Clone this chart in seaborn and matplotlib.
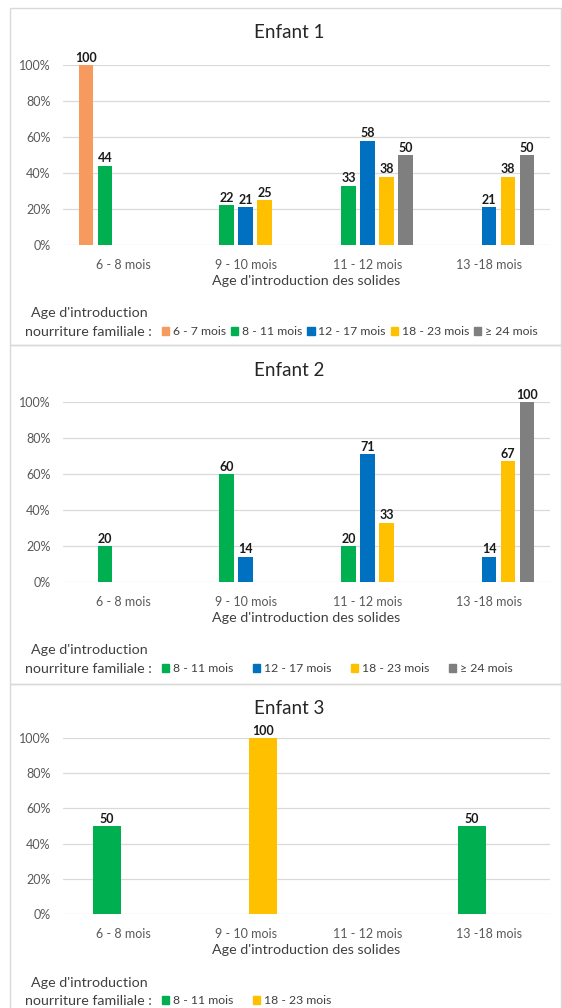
import numpy as np
import pandas as pd
import seaborn as sns
import matplotlib.pyplot as plt
from matplotlib.patches import Patch, Rectangle

# Categories on the x axis and the legend series
categories = ['6 - 8 mois', '9 - 10 mois', '11 - 12 mois', '13 -18 mois']
series = ['6 - 7 mois', '8 - 11 mois', '12 - 17 mois', '18 - 23 mois', '≥ 24 mois']
series_colors = ['#F79A5F', '#00B050', '#0070C0', '#FFC000', '#7F7F7F']
y_ticks = [0, 20, 40, 60, 80, 100]

# Enfant 1 (% per category, one list per series)
e1_6_7 = [100, 0, 0, 0]
e1_8_11 = [44, 22, 33, 0]
e1_12_17 = [0, 21, 58, 21]
e1_18_23 = [0, 25, 38, 38]
e1_24 = [0, 0, 50, 50]

# Enfant 2
e2_6_7 = [0, 0, 0, 0]
e2_8_11 = [20, 60, 20, 0]
e2_12_17 = [0, 14, 71, 14]
e2_18_23 = [0, 0, 33, 67]
e2_24 = [0, 0, 0, 100]

# Enfant 3
e3_8_11 = [50, 0, 0, 50]
e3_18_23 = [0, 100, 0, 0]


def to_long(names, values):
    rows = []
    for name, vals in zip(names, values):
        for cat, v in zip(categories, vals):
            rows.append((cat, name, v))
    return pd.DataFrame(rows, columns=['solides', 'familiale', 'pct'])


df1 = to_long(series, [e1_6_7, e1_8_11, e1_12_17, e1_18_23, e1_24])
df2 = to_long(series, [e2_6_7, e2_8_11, e2_12_17, e2_18_23, e2_24])
df3 = to_long([series[1], series[3]], [e3_8_11, e3_18_23])

sns.set_style('white')
plt.rcParams['font.family'] = ['Lato', 'DejaVu Sans']

W, H = 562, 1008
fig = plt.figure(figsize=(W / 100, H / 100), dpi=100)

grey_txt = '#595959'
dark_txt = '#404040'

panels = [
    dict(title='Enfant 1', df=df1, hue_order=series, colors=series_colors,
         legend=series, legend_colors=series_colors, width=0.78, gap=0.24,
         top=65, bottom=245, title_y=33, leg1_y=313, leg2_y=332, colsp=0.4,
         box=(8, 345)),
    dict(title='Enfant 2', df=df2, hue_order=series, colors=series_colors,
         legend=series[1:], legend_colors=series_colors[1:], width=0.78, gap=0.24,
         top=402, bottom=582, title_y=370, leg1_y=650, leg2_y=669, colsp=1.6,
         box=(345, 684)),
    dict(title='Enfant 3', df=df3, hue_order=[series[1], series[3]],
         colors=[series_colors[1], series_colors[3]],
         legend=[series[1], series[3]], legend_colors=[series_colors[1], series_colors[3]],
         width=0.56, gap=0.18, top=738, bottom=914, title_y=709, leg1_y=983, leg2_y=1001,
         colsp=1.6, box=(684, 1012)),
]

ax_left, ax_right = 63, 550

for p in panels:
    # panel frame
    y0, y1 = p['box']
    fig.add_artist(Rectangle((10 / W, 1 - y1 / H), 551 / W, (y1 - y0) / H,
                             transform=fig.transFigure, fill=False,
                             ec='#D9D9D9', lw=1))

    ax = fig.add_axes([ax_left / W, 1 - p['bottom'] / H,
                       (ax_right - ax_left) / W, (p['bottom'] - p['top']) / H])
    sns.barplot(data=p['df'], x='solides', y='pct', hue='familiale',
                order=categories, hue_order=p['hue_order'], palette=p['colors'],
                width=p['width'], gap=p['gap'], saturation=1, linewidth=0,
                errorbar=None, legend=False, ax=ax)

    for cont in ax.containers:
        labels = [f'{v:.0f}' if v > 0 else '' for v in cont.datavalues]
        ax.bar_label(cont, labels=labels, padding=1, fontsize=9,
                     fontweight='bold', color='#1a1a1a')

    ax.set_xlim(-0.5, 3.5)
    ax.set_ylim(0, 100)
    ax.set_yticks(y_ticks)
    ax.set_yticklabels([f'{t}%' for t in y_ticks])
    ax.yaxis.grid(True, color='#D9D9D9', lw=0.9)
    ax.set_axisbelow(True)
    for s in ax.spines.values():
        s.set_visible(False)
    ax.tick_params(axis='both', length=0, labelsize=9, colors=grey_txt)
    ax.tick_params(axis='y', pad=9)
    ax.tick_params(axis='x', pad=10)
    ax.set_ylabel('')
    ax.set_xlabel("Age d'introduction des solides", fontsize=10.3,
                  color=dark_txt, labelpad=3)

    fig.text(289 / W, 1 - p['title_y'] / H, p['title'], fontsize=13.5,
             color='#262626', ha='center', va='center')
    fig.text(89 / W, 1 - p['leg1_y'] / H, "Age d'introduction", fontsize=10.3,
             color=dark_txt, ha='center', va='center')
    fig.text(25 / W, 1 - p['leg2_y'] / H, 'nourriture familiale :', fontsize=10.3,
             color=dark_txt, ha='left', va='center')

    handles = [Patch(color=c, label=n) for n, c in zip(p['legend'], p['legend_colors'])]
    fig.legend(handles=handles, loc='center left',
               bbox_to_anchor=(162 / W, 1 - p['leg2_y'] / H),
               bbox_transform=fig.transFigure, ncol=len(handles), frameon=False,
               fontsize=8.8, labelcolor=dark_txt, handlelength=0.6,
               handleheight=0.6, handletextpad=0.3, columnspacing=p['colsp'],
               borderpad=0, borderaxespad=0)

fig.savefig('out.png', dpi=100)
